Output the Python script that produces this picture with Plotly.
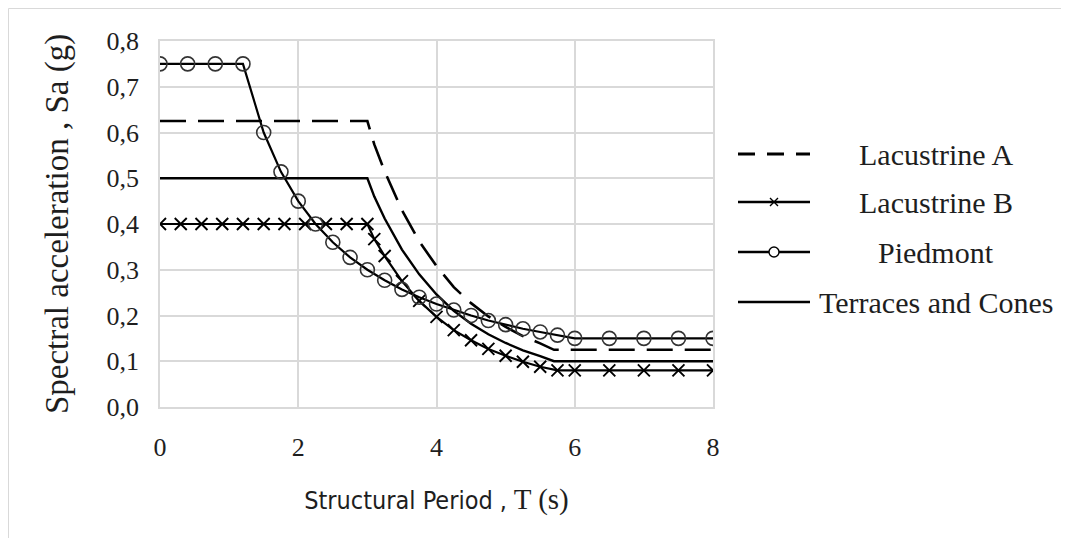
import plotly.graph_objects as go

# ---------------- data ----------------
series_names = ["Lacustrine A", "Lacustrine B", "Piedmont", "Terraces and Cones"]

period_lac_a = [0.0, 3.0, 3.1, 3.25, 3.5, 3.75, 4.0, 4.25, 4.5, 4.75, 5.0, 5.25, 5.5, 5.7, 8.0]
sa_lac_a = [0.625, 0.625, 0.574, 0.515, 0.430, 0.362, 0.308, 0.262, 0.227, 0.198, 0.175, 0.155,
            0.139, 0.125, 0.125]

period_lac_b = [0.0, 0.3, 0.6, 0.9, 1.2, 1.5, 1.8, 2.1, 2.4, 2.7, 3.0, 3.1, 3.25, 3.5, 3.75, 4.0,
                4.25, 4.5, 4.75, 5.0, 5.25, 5.5, 5.75, 6.0, 6.5, 7.0, 7.5, 8.0]
sa_lac_b = [0.40, 0.40, 0.40, 0.40, 0.40, 0.40, 0.40, 0.40, 0.40, 0.40, 0.40, 0.367, 0.330, 0.275,
            0.232, 0.197, 0.168, 0.146, 0.127, 0.112, 0.099, 0.088, 0.080, 0.080, 0.080, 0.080,
            0.080, 0.080]

period_piedmont = [0.0, 0.4, 0.8, 1.2, 1.5, 1.75, 2.0, 2.25, 2.5, 2.75, 3.0, 3.25, 3.5, 3.75, 4.0,
                   4.25, 4.5, 4.75, 5.0, 5.25, 5.5, 5.75, 6.0, 6.5, 7.0, 7.5, 8.0]
sa_piedmont = [0.75, 0.75, 0.75, 0.75, 0.600, 0.514, 0.450, 0.400, 0.360, 0.327, 0.300, 0.277,
               0.257, 0.240, 0.225, 0.212, 0.200, 0.189, 0.180, 0.171, 0.164, 0.157, 0.150,
               0.150, 0.150, 0.150, 0.150]

period_terraces = [0.0, 3.0, 3.1, 3.25, 3.5, 3.75, 4.0, 4.25, 4.5, 4.75, 5.0, 5.25, 5.5, 5.7, 8.0]
sa_terraces = [0.50, 0.50, 0.460, 0.412, 0.344, 0.290, 0.246, 0.210, 0.182, 0.159, 0.140, 0.124,
               0.111, 0.100, 0.100]

x_tick_vals = [0, 2, 4, 6, 8]
y_tick_vals = [0.0, 0.1, 0.2, 0.3, 0.4, 0.5, 0.6, 0.7, 0.8]

x_title = ("<span style=\"font-family:'Liberation Sans Narrow','DejaVu Sans Condensed',sans-serif;"
           "font-size:25px\">Structural Period ,</span> T (s)")
y_title = "Spectral acceleration , Sa (g)"

# ---------------- layout constants ----------------
W, H = 1053, 530
ML, MR, MT, MB = 152, 348, 33, 131
PW, PH = W - ML - MR, H - MT - MB
SERIF = "Liberation Serif"
INK = "#1e1e1e"
GRID = "#d9d9d9"


def px(x):
    return (x - ML) / PW


def py(y):
    return (MT + PH - y) / PH


fig = go.Figure()

fig.add_trace(go.Scatter(x=period_lac_a, y=sa_lac_a, name=series_names[0], mode="lines",
                         line=dict(color="black", width=2.6, dash="26px,12px")))
fig.add_trace(go.Scatter(x=period_terraces, y=sa_terraces, name=series_names[3], mode="lines",
                         line=dict(color="black", width=2.4)))
fig.add_trace(go.Scatter(x=period_lac_b, y=sa_lac_b, name=series_names[1], mode="lines+markers",
                         line=dict(color="black", width=2.2),
                         marker=dict(symbol="x-thin-open", size=12,
                                     line=dict(color="#222", width=1.9))))
fig.add_trace(go.Scatter(x=period_piedmont, y=sa_piedmont, name=series_names[2],
                         mode="lines+markers",
                         line=dict(color="black", width=2.2),
                         marker=dict(symbol="circle-open", size=14, color="#333",
                                     line=dict(color="#333", width=1.6))))

# ---------------- custom legend (Excel-like, long sample lines, centered text) ----------------
rows = [146, 194, 244, 294]
lx0, lx1, lxc, ltext = 730, 802, 766, 928
shapes = []
annotations = []
shapes.append(dict(type="line", xref="paper", yref="paper", x0=px(lx0), x1=px(lx1),
                   y0=py(rows[0]), y1=py(rows[0]),
                   line=dict(color="black", width=3, dash="17px,12px")))
for r in rows[1:]:
    shapes.append(dict(type="line", xref="paper", yref="paper", x0=px(lx0), x1=px(lx1),
                       y0=py(r), y1=py(r), line=dict(color="black", width=2.6)))
shapes.append(dict(type="path", xref="paper", yref="paper", xsizemode="pixel",
                   ysizemode="pixel", xanchor=px(lxc), yanchor=py(rows[1]),
                   path="M-4,-4 L4,4 M-4,4 L4,-4", line=dict(color="black", width=1.4)))
shapes.append(dict(type="circle", xref="paper", yref="paper", xsizemode="pixel",
                   ysizemode="pixel", xanchor=px(lxc), yanchor=py(rows[2]),
                   x0=-5, x1=5, y0=-5, y1=5, fillcolor="white",
                   line=dict(color="black", width=1.4)))
for name, r in zip(series_names, rows):
    annotations.append(dict(text=name, xref="paper", yref="paper", x=px(ltext), y=py(r),
                            xanchor="center", yanchor="middle", showarrow=False,
                            font=dict(family=SERIF, size=30, color=INK)))

# light chart frame (only the left / top edges are visible in the reference)
shapes.append(dict(type="line", xref="paper", yref="paper", x0=px(0.5), x1=px(0.5),
                   y0=py(H + 5), y1=py(0.5), line=dict(color="#d9d9d9", width=1)))
shapes.append(dict(type="line", xref="paper", yref="paper", x0=px(0.5), x1=px(W + 5),
                   y0=py(0.5), y1=py(0.5), line=dict(color="#d9d9d9", width=1)))

fig.update_layout(
    width=W, height=H,
    margin=dict(l=ML, r=MR, t=MT, b=MB, autoexpand=False),
    paper_bgcolor="white", plot_bgcolor="white",
    separators=",.",
    showlegend=False,
    shapes=shapes, annotations=annotations,
    font=dict(family=SERIF, color=INK),
    xaxis=dict(range=[0, 8], tickvals=x_tick_vals, showgrid=True, gridcolor=GRID, gridwidth=1.5,
               zeroline=False, showline=True, linecolor=GRID, linewidth=1.5, mirror=True,
               ticks="", ticklabelstandoff=16,
               tickfont=dict(family=SERIF, size=26, color=INK),
               title=dict(text=x_title, font=dict(family=SERIF, size=29, color=INK), standoff=28),
               automargin=False),
    yaxis=dict(range=[0, 0.8], tickvals=y_tick_vals, tickformat=".1f", showgrid=True,
               gridcolor=GRID, gridwidth=1.5, zeroline=False, showline=True, linecolor=GRID,
               linewidth=1.5, mirror=True, ticks="", ticklabelstandoff=14,
               tickfont=dict(family=SERIF, size=26, color=INK),
               title=dict(text=y_title, font=dict(family=SERIF, size=33, color=INK), standoff=28),
               automargin=False),
)

fig.write_html("out.html")
